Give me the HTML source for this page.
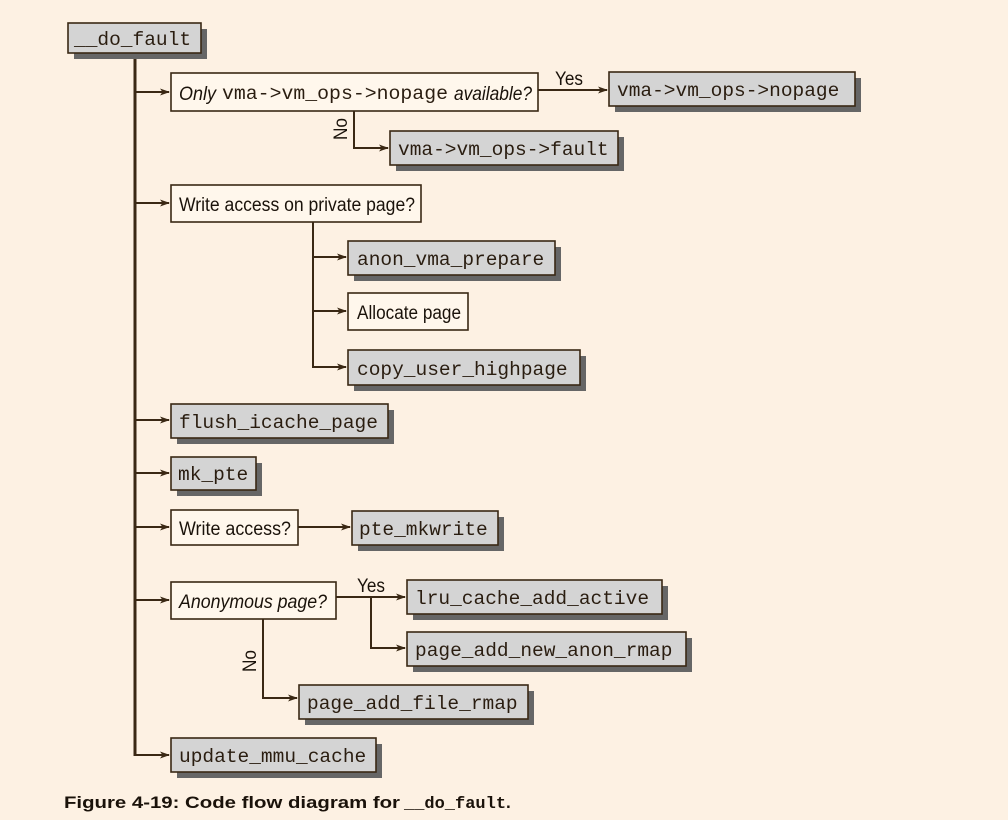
<!DOCTYPE html>
<html><head><meta charset="utf-8"><style>
html,body{margin:0;padding:0;background:#fdf1e3;}
svg{display:block}
.m{font-family:"Liberation Mono",monospace;font-size:19.5px;fill:#2a1d10}
.s{font-family:"Liberation Sans",sans-serif;font-size:19px;fill:#1a120a}
.i{font-style:italic}
</style></head><body>
<svg width="1008" height="820" viewBox="0 0 1008 820" xmlns="http://www.w3.org/2000/svg">
<defs>
<marker id="a" markerWidth="10" markerHeight="8" refX="9" refY="4" orient="auto" markerUnits="userSpaceOnUse">
<path d="M0,0.5 L10,4 L0,7.5 L2.5,4 Z" fill="#3a2814"/></marker>
</defs>
<rect width="1008" height="820" fill="#fdf1e3"/>
<g stroke="#3a2814" fill="none" stroke-width="2">
<line x1="135" y1="53" x2="135" y2="756" stroke-width="3"/>
<line x1="135" y1="92" x2="169" y2="92" marker-end="url(#a)"/>
<line x1="135" y1="203" x2="169" y2="203" marker-end="url(#a)"/>
<line x1="135" y1="420" x2="169" y2="420" marker-end="url(#a)"/>
<line x1="135" y1="473" x2="169" y2="473" marker-end="url(#a)"/>
<line x1="135" y1="527" x2="169" y2="527" marker-end="url(#a)"/>
<line x1="135" y1="600" x2="169" y2="600" marker-end="url(#a)"/>
<line x1="135" y1="755" x2="169" y2="755" marker-end="url(#a)"/>
<line x1="538" y1="90" x2="607" y2="90" marker-end="url(#a)"/>
<polyline points="354,111 354,148 388,148" marker-end="url(#a)"/>
<polyline points="313,222 313,367 346,367" marker-end="url(#a)"/>
<line x1="313" y1="257" x2="346" y2="257" marker-end="url(#a)"/>
<line x1="313" y1="311" x2="346" y2="311" marker-end="url(#a)"/>
<line x1="298" y1="527" x2="350" y2="527" marker-end="url(#a)"/>
<line x1="336" y1="597" x2="405" y2="597" marker-end="url(#a)"/>
<polyline points="371,597 371,648 405,648" marker-end="url(#a)"/>
<polyline points="263,619 263,698 297,698" marker-end="url(#a)"/>
</g>
<g fill="#666">
<rect x="74" y="29" width="133" height="30"/>
<rect x="615" y="78" width="246" height="34"/>
<rect x="396" y="137" width="228" height="34"/>
<rect x="354" y="247" width="207" height="34"/>
<rect x="354" y="356" width="232" height="35"/>
<rect x="177" y="410" width="217" height="34"/>
<rect x="177" y="463" width="85" height="33"/>
<rect x="358" y="517" width="146" height="34"/>
<rect x="413" y="586" width="255" height="34"/>
<rect x="413" y="638" width="279" height="34"/>
<rect x="305" y="691" width="229" height="34"/>
<rect x="177" y="744" width="205" height="34"/>
</g>
<g stroke="#3a2814" stroke-width="1.6">
<g fill="#d4d4d4">
<rect x="68" y="23" width="133" height="30"/>
<rect x="609" y="72" width="246" height="34"/>
<rect x="390" y="131" width="228" height="34"/>
<rect x="348" y="241" width="207" height="34"/>
<rect x="348" y="350" width="232" height="35"/>
<rect x="171" y="404" width="217" height="34"/>
<rect x="171" y="457" width="85" height="33"/>
<rect x="352" y="511" width="146" height="34"/>
<rect x="407" y="580" width="255" height="34"/>
<rect x="407" y="632" width="279" height="34"/>
<rect x="299" y="685" width="229" height="34"/>
<rect x="171" y="738" width="205" height="34"/>
</g>
<g fill="#fff7ec">
<rect x="171" y="73" width="367" height="38"/>
<rect x="171" y="185" width="250" height="37"/>
<rect x="348" y="293" width="120" height="37"/>
<rect x="171" y="510" width="127" height="35"/>
<rect x="171" y="582" width="165" height="37"/>
</g>
</g>
<g class="m">
<text x="74" y="45">__do_fault</text>
<text x="617" y="96">vma-&gt;vm_ops-&gt;nopage</text>
<text x="398" y="155">vma-&gt;vm_ops-&gt;fault</text>
<text x="357" y="265">anon_vma_prepare</text>
<text x="357" y="375">copy_user_highpage</text>
<text x="179" y="428">flush_icache_page</text>
<text x="178" y="480">mk_pte</text>
<text x="359" y="535">pte_mkwrite</text>
<text x="415" y="604">lru_cache_add_active</text>
<text x="415" y="656">page_add_new_anon_rmap</text>
<text x="307" y="709">page_add_file_rmap</text>
<text x="179" y="762">update_mmu_cache</text>
<text x="222" y="99" textLength="226" lengthAdjust="spacingAndGlyphs">vma-&gt;vm_ops-&gt;nopage</text>
</g>
<g class="s">
<text class="i" x="179" y="100" textLength="37" lengthAdjust="spacingAndGlyphs">Only</text>
<text class="i" x="454" y="100" textLength="78" lengthAdjust="spacingAndGlyphs">available?</text>
<text x="179" y="211" textLength="236" lengthAdjust="spacingAndGlyphs">Write access on private page?</text>
<text x="357" y="319" textLength="104" lengthAdjust="spacingAndGlyphs">Allocate page</text>
<text x="179" y="535" textLength="112" lengthAdjust="spacingAndGlyphs">Write access?</text>
<text class="i" x="179" y="608" textLength="148" lengthAdjust="spacingAndGlyphs">Anonymous page?</text>
<text x="555" y="85" textLength="28" lengthAdjust="spacingAndGlyphs">Yes</text>
<text x="357" y="592" textLength="28" lengthAdjust="spacingAndGlyphs">Yes</text>
<text transform="translate(347,140) rotate(-90)" textLength="22" lengthAdjust="spacingAndGlyphs">No</text>
<text transform="translate(256,672) rotate(-90)" textLength="22" lengthAdjust="spacingAndGlyphs">No</text>
</g>
<text x="64" y="808" font-family="Liberation Sans,sans-serif" font-weight="bold" font-size="17" fill="#1a120a" textLength="336" lengthAdjust="spacingAndGlyphs">Figure 4-19: Code flow diagram for</text>
<text x="404" y="808" font-family="Liberation Mono,monospace" font-weight="bold" font-size="17" fill="#1a120a">__do_fault</text>
<text x="506" y="808" font-family="Liberation Sans,sans-serif" font-weight="bold" font-size="17" fill="#1a120a">.</text>
</svg>
</body></html>
